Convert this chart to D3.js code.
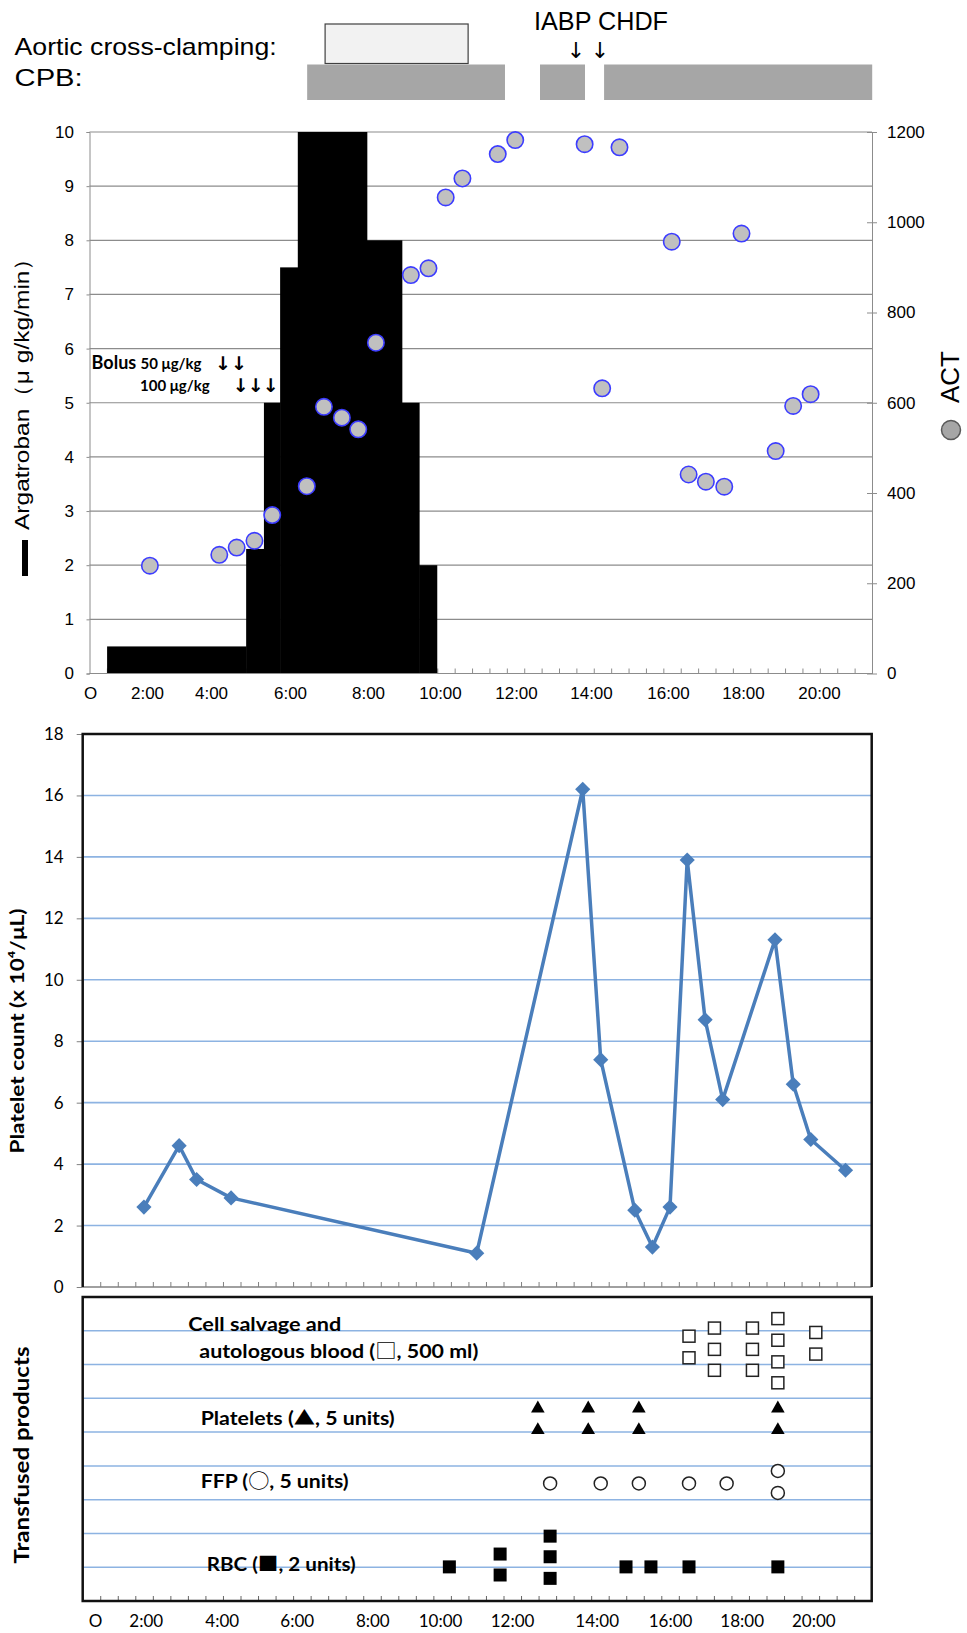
<!DOCTYPE html>
<html>
<head>
<meta charset="utf-8">
<script src="https://cdn.jsdelivr.net/npm/d3@7"></script>
<style>
body { margin: 0; background: #fff; }
</style>
</head>
<body>
<div class="chart"></div>
<script>
// DATA ***********************************************
// time in hours from start of surgery
var timeTicks = [0, 2, 4, 6, 8, 10, 12, 14, 16, 18, 20];
var timeLabels = ["O", "2:00", "4:00", "6:00", "8:00", "10:00", "12:00", "14:00", "16:00", "18:00", "20:00"];

// header bars
var cpbStart = [6.44, 12.64, 14.34];
var cpbEnd = [11.71, 13.84, 21.4];
var clampStart = [6.90];
var clampEnd = [10.74];
var eventNames = ["IABP", "CHDF"];
var eventTimes = [13.6, 14.23];

// argatroban infusion rate (ug/kg/min)
var argStart = [0.60, 4.89, 5.34, 5.75, 6.20, 7.97, 8.94, 9.42];
var argEnd = [4.89, 5.34, 5.75, 6.20, 7.97, 8.94, 9.42, 9.91];
var argRate = [0.5, 2.3, 5, 7.5, 10, 8, 5, 2];
var bolus50Times = [4.30, 4.71];
var bolus100Times = [4.75, 5.13, 5.51];

// ACT (sec)
var actTimes = [2.09, 4.21, 4.65, 5.10, 5.55, 6.43, 6.87, 7.33, 7.75, 8.22, 9.19, 9.68, 10.15, 10.59,
        11.52, 11.98, 13.83, 14.29, 14.74, 16.10, 16.55, 17.01, 17.50, 17.96, 18.86, 19.32, 19.78];
var actValues = [239, 263, 279, 294, 351, 415, 591, 567, 541, 733, 883, 898, 1055, 1097,
        1151, 1182, 1173, 632, 1166, 957, 441, 425, 414, 975, 493, 593, 619];

// platelet count (x10^4/uL)
var pltTimes = [1.93, 2.88, 3.34, 4.25, 11.02, 13.67, 14.11, 15.04, 15.52, 16.00, 16.48, 16.98, 17.47,
        18.93, 19.44, 19.93, 20.90];
var pltValues = [2.6, 4.6, 3.5, 2.9, 1.1, 16.2, 7.4, 2.5, 1.3, 2.6, 13.9, 8.7, 6.1, 11.3, 6.6, 4.8, 3.8];

// transfused products (row level on a 0-9 scale)
var salvageTimes = [16.53, 16.53, 17.24, 17.24, 17.24, 18.30, 18.30, 18.30, 19.01, 19.01, 19.01, 19.01, 20.07, 20.07];
var salvageLevels = [7.84, 7.20, 8.08, 7.45, 6.83, 8.08, 7.45, 6.83, 8.36, 7.72, 7.08, 6.46, 7.95, 7.31];
var plateletTimes = [12.61, 12.61, 13.80, 13.80, 15.15, 15.15, 19.01, 19.01];
var plateletLevels = [5.70, 5.06, 5.70, 5.06, 5.70, 5.06, 5.70, 5.06];
var ffpTimes = [12.90, 14.11, 15.15, 16.53, 17.58, 19.01, 19.01];
var ffpLevels = [3.48, 3.48, 3.48, 3.48, 3.48, 3.85, 3.20];
var rbcTimes = [10.26, 11.67, 11.67, 12.90, 12.90, 12.90, 14.80, 15.48, 16.53, 19.01];
var rbcLevels = [1.01, 1.39, 0.77, 1.92, 1.31, 0.67, 1.01, 1.01, 1.01, 1.01];

var rowLabels = ["Cell salvage and", "autologous blood (\u25A1, 500 ml)", "Platelets (\u25B2, 5 units)",
        "FFP (\u25CB, 5 units)", "RBC (\u25A0, 2 units)"];

// LAYOUT ***********************************************
var width = 967;
var height = 1633;
var topL = 89.5, topR = 872, topT = 132, topB = 673.5;
var midL = 82.7, midR = 871.7, midT = 734, midB = 1287;
var botT = 1297, botB = 1601;
var fontTop = "'Liberation Sans', Arial, sans-serif";
var fontBot = "Lato, 'Open Sans', sans-serif";
var fontSym = "'Noto Sans CJK JP', 'DejaVu Sans', sans-serif";

// the hand placed time labels are not evenly spaced
var xTop = d3.scaleLinear().domain(timeTicks).range([90, 147, 211, 290, 368, 440, 516, 591, 668, 743, 819]);
var xBot = d3.scaleLinear().domain(timeTicks).range([95, 145.7, 221.7, 296.7, 372.3, 440, 512, 596.7, 670, 741.7, 813.3]);
var yArg = d3.scaleLinear().domain([0, 10]).range([topB, topT]);
var yAct = d3.scaleLinear().domain([0, 1200]).range([topB, topT]);
var yPlt = d3.scaleLinear().domain([0, 18]).range([midB, midT]);
var yTr = d3.scaleLinear().domain([0, 9]).range([botB, botT]);

var svg = d3.select("div.chart")
        .append("svg")
        .attr("width", width)
        .attr("height", height);

showHeader();
showTopChart();
showPlatelets();
showTransfusions();

// FUNCTIONS ***********************************************

function showHeader() {
        var g = svg.append("g");

        g.append("text").text("Aortic cross-clamping:")
                .attr("x", 14.6).attr("y", 55)
                .attr("font-family", fontTop).attr("font-size", 24)
                .attr("textLength", 262).attr("lengthAdjust", "spacingAndGlyphs");
        g.append("text").text("CPB:")
                .attr("x", 14.6).attr("y", 86)
                .attr("font-family", fontTop).attr("font-size", 24)
                .attr("textLength", 68).attr("lengthAdjust", "spacingAndGlyphs");

        g.selectAll("rect.cpb")
                .data(d3.range(cpbStart.length))
                .enter()
                .append("rect")
                .attr("class", "cpb")
                .attr("x", i => xTop(cpbStart[i]))
                .attr("width", i => xTop(cpbEnd[i]) - xTop(cpbStart[i]))
                .attr("y", 64.5)
                .attr("height", 35.5)
                .attr("fill", "#a6a6a6");

        g.selectAll("rect.clamp")
                .data(d3.range(clampStart.length))
                .enter()
                .append("rect")
                .attr("class", "clamp")
                .attr("x", i => xTop(clampStart[i]))
                .attr("width", i => xTop(clampEnd[i]) - xTop(clampStart[i]))
                .attr("y", 24)
                .attr("height", 39.5)
                .attr("fill", "#f2f2f2")
                .attr("stroke", "#404040")
                .attr("stroke-width", 1.2);

        g.selectAll("text.event")
                .data(eventTimes)
                .enter()
                .append("text")
                .attr("class", "event")
                .text("\u2193")
                .attr("x", d => xTop(d))
                .attr("y", 58)
                .attr("text-anchor", "middle")
                .attr("font-family", "'DejaVu Sans', sans-serif")
                .attr("font-size", 22);

        g.append("text").text(eventNames.join(" "))
                .attr("x", xTop(eventTimes[0]) - 42).attr("y", 30)
                .attr("font-family", fontTop).attr("font-size", 25)
                .attr("textLength", 134).attr("lengthAdjust", "spacingAndGlyphs");
}

function showTopChart() {
        var g = svg.append("g");

        // gridlines
        g.selectAll("line.grid")
                .data(yArg.ticks(10))
                .enter()
                .append("line")
                .attr("x1", topL).attr("x2", topR)
                .attr("y1", d => yArg(d)).attr("y2", d => yArg(d))
                .attr("stroke", "#8c8c8c")
                .attr("stroke-width", 1.2);

        // category ticks on the time axis
        var idx = d3.scaleLinear().domain([0, 45]).range([topL, topR]);
        g.append("g")
                .attr("transform", "translate(0," + topB + ")")
                .call(d3.axisBottom(idx).tickValues(d3.range(1, 45)).tickSize(-5).tickFormat(""))
                .call(a => a.select(".domain").remove())
                .selectAll("line").attr("stroke", "#8c8c8c");

        // argatroban
        g.selectAll("rect.arg")
                .data(d3.range(argRate.length))
                .enter()
                .append("rect")
                .attr("class", "arg")
                .attr("x", i => xTop(argStart[i]))
                .attr("width", i => xTop(argEnd[i]) - xTop(argStart[i]) + 0.5)
                .attr("y", i => yArg(argRate[i]))
                .attr("height", i => topB - yArg(argRate[i]))
                .attr("fill", "#000");

        // left axis
        var left = g.append("g")
                .attr("transform", "translate(" + topL + ",0)")
                .call(d3.axisLeft(yArg).ticks(10).tickSize(3).tickPadding(12.5));
        left.selectAll("path,line").attr("stroke", "#8c8c8c");
        left.selectAll("text").attr("font-size", 17).attr("font-family", fontTop).attr("fill", "#000");

        // right axis
        var right = g.append("g")
                .attr("transform", "translate(" + topR + ",0)")
                .call(d3.axisRight(yAct).tickValues(d3.range(0, 1201, 200)).tickFormat(d3.format("d"))
                        .tickSize(5).tickPadding(10).tickSizeOuter(0));
        right.selectAll(".tick line").attr("x1", -5);
        right.selectAll("path,line").attr("stroke", "#8c8c8c");
        right.selectAll("text").attr("font-size", 17).attr("font-family", fontTop).attr("fill", "#000");

        // bottom line and labels
        g.append("line")
                .attr("x1", topL).attr("x2", topR)
                .attr("y1", topB).attr("y2", topB)
                .attr("stroke", "#8c8c8c").attr("stroke-width", 1.2);
        var bottom = g.append("g")
                .attr("transform", "translate(0," + topB + ")")
                .call(d3.axisBottom(xTop).tickValues(timeTicks).tickFormat((d, i) => timeLabels[i]).tickSize(0).tickPadding(13));
        bottom.select(".domain").remove();
        bottom.selectAll("text").attr("font-size", 17).attr("font-family", fontTop).attr("fill", "#000");

        // bolus annotation
        g.append("text").attr("x", 91.6).attr("y", 369)
                .attr("font-family", fontBot).attr("font-weight", "bold")
                .call(t => {
                        t.append("tspan").attr("font-size", 18).text("Bolus ");
                        t.append("tspan").attr("font-size", 15).text("50 \u03BCg/kg");
                });
        g.append("text").attr("x", 140).attr("y", 391)
                .attr("font-family", fontBot).attr("font-weight", "bold")
                .attr("font-size", 15).text("100 \u03BCg/kg");
        g.selectAll("text.b50")
                .data(bolus50Times)
                .enter()
                .append("text")
                .attr("class", "b50")
                .text("\u2193")
                .attr("x", d => xTop(d)).attr("y", 370)
                .attr("text-anchor", "middle")
                .attr("font-family", "'DejaVu Sans', sans-serif")
                .attr("font-weight", "bold")
                .attr("font-size", 19);
        g.selectAll("text.b100")
                .data(bolus100Times)
                .enter()
                .append("text")
                .attr("class", "b100")
                .text("\u2193")
                .attr("x", d => xTop(d)).attr("y", 392)
                .attr("text-anchor", "middle")
                .attr("font-family", "'DejaVu Sans', sans-serif")
                .attr("font-weight", "bold")
                .attr("font-size", 19);

        // ACT
        g.selectAll("circle.act")
                .data(d3.range(actTimes.length))
                .enter()
                .append("circle")
                .attr("class", "act")
                .attr("cx", i => xTop(actTimes[i]))
                .attr("cy", i => yAct(actValues[i]))
                .attr("r", 8.2)
                .attr("fill", "#c0c0c0")
                .attr("stroke", "#3c3cff")
                .attr("stroke-width", 1.6);

        // axis titles
        g.append("rect")
                .attr("x", 22).attr("y", 540)
                .attr("width", 6).attr("height", 36)
                .attr("fill", "#000");
        g.append("text")
                .text("Argatroban\uFF08\u03BC g/kg/min\uFF09")
                .attr("transform", "translate(29,388) rotate(-90)")
                .attr("text-anchor", "middle")
                .attr("font-family", fontTop).attr("font-size", 21)
                .attr("textLength", 284).attr("lengthAdjust", "spacingAndGlyphs");

        g.append("circle")
                .attr("cx", 951).attr("cy", 430).attr("r", 9.5)
                .attr("fill", "#a6a6a6").attr("stroke", "#595959").attr("stroke-width", 1.5);
        g.append("text")
                .text("ACT")
                .attr("transform", "translate(959,377) rotate(-90)")
                .attr("text-anchor", "middle")
                .attr("font-family", fontTop).attr("font-size", 26);
}

function showPlatelets() {
        var g = svg.append("g");

        g.selectAll("line.grid")
                .data(d3.range(2, 17, 2))
                .enter()
                .append("line")
                .attr("x1", midL).attr("x2", midR)
                .attr("y1", d => yPlt(d)).attr("y2", d => yPlt(d))
                .attr("stroke", "#8db3e2")
                .attr("stroke-width", 1.6);

        var idx = d3.scaleLinear().domain([0, 45]).range([midL, midR]);
        g.append("g")
                .attr("transform", "translate(0," + midB + ")")
                .call(d3.axisBottom(idx).tickValues(d3.range(1, 45)).tickSize(-5).tickFormat(""))
                .call(a => a.select(".domain").remove())
                .selectAll("line").attr("stroke", "#808080");
        g.append("line")
                .attr("x1", midL).attr("x2", midR)
                .attr("y1", midB).attr("y2", midB)
                .attr("stroke", "#808080").attr("stroke-width", 1.5);

        var left = g.append("g")
                .attr("transform", "translate(" + midL + ",0)")
                .call(d3.axisLeft(yPlt).tickValues(d3.range(0, 19, 2)).tickSize(6).tickPadding(13).tickSizeOuter(0));
        left.select(".domain").remove();
        left.selectAll("line").attr("stroke", "#808080");
        left.selectAll("text").attr("font-size", 17).attr("font-family", fontBot).attr("fill", "#000");

        g.append("path")
                .attr("d", "M" + midL + "," + midB + "V" + midT + "H" + midR + "V" + midB)
                .attr("fill", "none")
                .attr("stroke", "#111")
                .attr("stroke-width", 2.5);

        var line = d3.line()
                .x(i => xBot(pltTimes[i]))
                .y(i => yPlt(pltValues[i]));
        g.append("path")
                .attr("d", line(d3.range(pltTimes.length)))
                .attr("fill", "none")
                .attr("stroke", "#4a7ebb")
                .attr("stroke-width", 3.5)
                .attr("stroke-linejoin", "round");

        g.selectAll("path.dot")
                .data(d3.range(pltTimes.length))
                .enter()
                .append("path")
                .attr("class", "dot")
                .attr("d", d3.symbol(d3.symbolSquare, 115))
                .attr("transform", i => "translate(" + xBot(pltTimes[i]) + "," + yPlt(pltValues[i]) + ") rotate(45)")
                .attr("fill", "#4a7ebb");

        g.append("text")
                .text("Platelet count (x 10\u2074/\u03BCL)")
                .attr("transform", "translate(24,1031) rotate(-90)")
                .attr("text-anchor", "middle")
                .attr("font-family", fontBot).attr("font-weight", "bold").attr("font-size", 19)
                .attr("textLength", 245).attr("lengthAdjust", "spacingAndGlyphs");
}

function showTransfusions() {
        var g = svg.append("g");

        g.selectAll("line.grid")
                .data(d3.range(1, 9))
                .enter()
                .append("line")
                .attr("x1", midL).attr("x2", midR)
                .attr("y1", d => yTr(d)).attr("y2", d => yTr(d))
                .attr("stroke", "#8db3e2")
                .attr("stroke-width", 1.5);

        var idx = d3.scaleLinear().domain([0, 45]).range([midL, midR]);
        g.append("g")
                .attr("transform", "translate(0," + botB + ")")
                .call(d3.axisBottom(idx).tickValues(d3.range(1, 45)).tickSize(-5).tickFormat(""))
                .call(a => a.select(".domain").remove())
                .selectAll("line").attr("stroke", "#666");

        g.append("rect")
                .attr("x", midL).attr("y", botT)
                .attr("width", midR - midL).attr("height", botB - botT)
                .attr("fill", "none")
                .attr("stroke", "#111")
                .attr("stroke-width", 2.5);

        var bottom = g.append("g")
                .attr("transform", "translate(0," + botB + ")")
                .call(d3.axisBottom(xBot).tickValues(timeTicks).tickFormat((d, i) => timeLabels[i]).tickSize(0).tickPadding(14));
        bottom.select(".domain").remove();
        bottom.selectAll("text").attr("font-size", 17).attr("font-family", fontBot).attr("fill", "#000");

        // row labels, marker symbols set in a font that has them
        var labelX = [188.3, 199.3, 200.7, 200.7, 206.7];
        var labelLevel = [8.2, 7.4, 5.41, 3.54, 1.09];
        var labelLen = [153, 279, 194, 148, 149];
        g.selectAll("text.row")
                .data(rowLabels)
                .enter()
                .append("text")
                .attr("class", "row")
                .attr("x", (d, i) => labelX[i])
                .attr("y", (d, i) => yTr(labelLevel[i]) + 6.5)
                .attr("font-family", fontBot).attr("font-weight", "bold").attr("font-size", 19)
                .attr("textLength", (d, i) => labelLen[i]).attr("lengthAdjust", "spacingAndGlyphs")
                .each(function (d) {
                        var parts = d.split(/([\u25A0-\u25CF])/);
                        var t = d3.select(this);
                        parts.forEach(function (p, k) {
                                var s = t.append("tspan").text(p);
                                if (k % 2 == 1) s.attr("font-family", fontSym).attr("font-weight", "normal");
                        });
                });

        // cell salvage: open squares
        g.selectAll("rect.salv")
                .data(d3.range(salvageTimes.length))
                .enter()
                .append("rect")
                .attr("class", "salv")
                .attr("x", i => xBot(salvageTimes[i]) - 6)
                .attr("y", i => yTr(salvageLevels[i]) - 6)
                .attr("width", 12).attr("height", 12)
                .attr("fill", "#fff").attr("stroke", "#222").attr("stroke-width", 1.5);

        // platelets: filled triangles
        g.selectAll("path.plt")
                .data(d3.range(plateletTimes.length))
                .enter()
                .append("path")
                .attr("class", "plt")
                .attr("d", d3.symbol(d3.symbolTriangle, 80))
                .attr("transform", i => "translate(" + xBot(plateletTimes[i]) + "," + yTr(plateletLevels[i]) + ")")
                .attr("fill", "#000");

        // FFP: open circles
        g.selectAll("circle.ffp")
                .data(d3.range(ffpTimes.length))
                .enter()
                .append("circle")
                .attr("class", "ffp")
                .attr("cx", i => xBot(ffpTimes[i]))
                .attr("cy", i => yTr(ffpLevels[i]))
                .attr("r", 6.5)
                .attr("fill", "#fff").attr("stroke", "#222").attr("stroke-width", 1.5);

        // RBC: filled squares
        g.selectAll("rect.rbc")
                .data(d3.range(rbcTimes.length))
                .enter()
                .append("rect")
                .attr("class", "rbc")
                .attr("x", i => xBot(rbcTimes[i]) - 6.5)
                .attr("y", i => yTr(rbcLevels[i]) - 6.5)
                .attr("width", 13).attr("height", 13)
                .attr("fill", "#000");

        g.append("text")
                .text("Transfused products")
                .attr("transform", "translate(29,1455) rotate(-90)")
                .attr("text-anchor", "middle")
                .attr("font-family", fontBot).attr("font-weight", "bold").attr("font-size", 20)
                .attr("textLength", 217).attr("lengthAdjust", "spacingAndGlyphs");
}
</script>
</body>
</html>
